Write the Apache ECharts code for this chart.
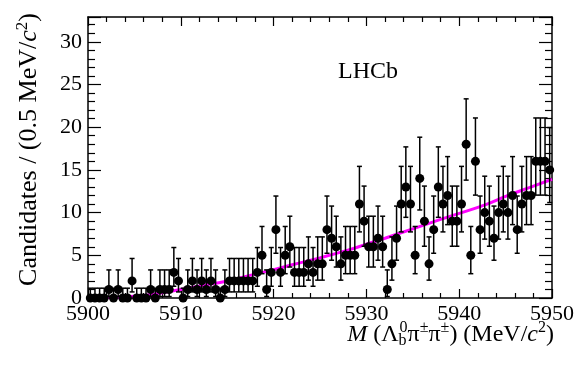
<!DOCTYPE html>
<html>
<head>
<meta charset="utf-8">
<script src="https://cdn.jsdelivr.net/npm/echarts@6/dist/echarts.min.js"></script>
<style>
html, body { margin: 0; padding: 0; background: #fff; }
#chart { width: 584px; height: 365px; }
</style>
</head>
<body>
<div id="chart"></div>
<script>
// mass window and binning (MeV/c2)
const massMin = 5900
const massMax = 5950
const massStep = 10
const binWidth = 0.5

// candidates per 0.5 MeV/c2 bin, from 5900 upwards
const counts = [
   0, 0, 0, 0, 1, 0, 1, 0, 0, 2,
   0, 0, 0, 1, 0, 1, 1, 1, 3, 2,
   0, 1, 2, 1, 2, 1, 2, 1, 0, 1,
   2, 2, 2, 2, 2, 2, 3, 5, 1, 3,
   8, 3, 5, 6, 3, 3, 3, 4, 3, 4,
   4, 8, 7, 6, 4, 5, 5, 5, 11, 9,
   6, 6, 7, 6, 1, 4, 7, 11, 13, 11,
   5, 14, 9, 4, 8, 13, 11, 12, 9, 9,
   11, 18, 5, 16, 8, 10, 9, 7, 10, 11,
   10, 12, 8, 11, 12, 12, 16, 16, 16, 15
]

// background fit (magenta)
const fitMass = [5900, 5903, 5905, 5907, 5910, 5912, 5915, 5918, 5920, 5922, 5925, 5928, 5930, 5932, 5935, 5938, 5940, 5943, 5945, 5948, 5950]
const fitValue = [0.02, 0.08, 0.2, 0.45, 1.0, 1.4, 2.0, 2.8, 3.3, 3.9, 4.7, 5.6, 6.3, 7.0, 8.1, 9.2, 9.9, 11.0, 11.9, 13.1, 13.9]

// y axis
const yMin = 0
const yMax = 32.9
const yStep = 5

// poisson interval (0 entries: RooFit style)
function poissonBand(n) {
   if (n === 0) return [0, 1.148]
   let lo = n * Math.pow(1 - 1 / (9 * n) - 1 / (3 * Math.sqrt(n)), 3)
   let m = n + 1
   let hi = m * Math.pow(1 - 1 / (9 * m) + 1 / (3 * Math.sqrt(m)), 3)
   return [lo, hi]
}

let points = []
let bars = []
counts.forEach((n, i) => {
   let x = massMin + (i + 0.5) * binWidth
   let band = poissonBand(n)
   points.push([x, n])
   bars.push([x, band[0], band[1]])
})

let fitLine = fitMass.map((m, i) => [m, fitValue[i]])

const serif = 'Liberation Serif'

let mChart = echarts.init(document.getElementById('chart'))

let frameX = {
   type: 'value',
   min: massMin,
   max: massMax,
   interval: massStep,
   axisLine: { show: true, onZero: false, lineStyle: { color: '#000', width: 1.5 } },
   axisTick: { show: true, inside: true, length: 9, lineStyle: { color: '#000', width: 1.2 } },
   minorTick: { show: true, splitNumber: 5, length: 5, lineStyle: { color: '#000', width: 1.2 } },
   splitLine: { show: false },
   minorSplitLine: { show: false }
}

let frameY = {
   type: 'value',
   min: yMin,
   max: yMax,
   interval: yStep,
   axisLine: { show: true, onZero: false, lineStyle: { color: '#000', width: 1.5 } },
   axisTick: { show: true, inside: true, length: 13, lineStyle: { color: '#000', width: 1.2 } },
   minorTick: { show: true, splitNumber: 5, length: 7, lineStyle: { color: '#000', width: 1.2 } },
   splitLine: { show: false },
   minorSplitLine: { show: false }
}

let option = {
   animation: false,
   backgroundColor: '#fff',
   grid: {
      left: 88,
      right: 32,
      top: 17,
      bottom: 67
   },
   xAxis: [
      Object.assign({}, frameX, {
         position: 'bottom',
         axisLabel: {
            fontFamily: serif, fontSize: 22, color: '#000', margin: 5,
            formatter: v => String(v)
         }
      }),
      Object.assign({}, frameX, {
         position: 'top',
         axisLabel: { show: false }
      })
   ],
   yAxis: [
      Object.assign({}, frameY, {
         position: 'left',
         axisLabel: { fontFamily: serif, fontSize: 22, color: '#000', margin: 6, showMaxLabel: false },
         name: 'Candidates / (0.5 MeV/{i|c}{sup|2})',
         nameLocation: 'middle',
         nameGap: 43,
         nameRotate: 90,
         nameTextStyle: {
            fontFamily: serif,
            fontSize: 26,
            color: '#000',
            padding: [0, 0, 0, 16],
            rich: {
               i: { fontFamily: serif, fontSize: 26, fontStyle: 'italic', color: '#000' },
               sup: { fontFamily: serif, fontSize: 17, color: '#000', padding: [0, 0, 14, 0] }
            }
         }
      }),
      Object.assign({}, frameY, {
         position: 'right',
         axisLabel: { show: false }
      })
   ],
   graphic: [
      {
         type: 'text',
         left: 338,
         top: 60,
         style: { text: 'LHCb', fontFamily: serif, fontSize: 24, fill: '#000' }
      },
      {
         type: 'text',
         right: 30,
         top: 320,
         style: {
            text: '{i|M} (Λ{sub|b}{sup|0}π{sup|±}π{sup|±}) (MeV/{i|c}{sup|2})',
            fontFamily: serif,
            fontSize: 24,
            fill: '#000',
            rich: {
               i: { fontFamily: serif, fontSize: 24, fontStyle: 'italic', fill: '#000' },
               sup: { fontFamily: serif, fontSize: 16, fill: '#000', padding: [0, 0, 14, 0] },
               sub: { fontFamily: serif, fontSize: 16, fill: '#000', padding: [12, 0, 0, 0], width: 1, align: 'left' }
            }
         }
      }
   ],
   series: [
      {
         name: 'fit',
         type: 'line',
         data: fitLine,
         smooth: true,
         showSymbol: false,
         lineStyle: { color: '#ff00ff', width: 3 },
         z: 3
      },
      {
         name: 'errors',
         type: 'custom',
         data: bars,
         renderItem: function (params, api) {
            let x = api.value(0)
            let pLo = api.coord([x, api.value(1)])
            let pHi = api.coord([x, api.value(2)])
            let cap = 2.5
            let st = { stroke: '#000', lineWidth: 1.5 }
            return {
               type: 'group',
               children: [
                  { type: 'line', shape: { x1: pLo[0], y1: pLo[1], x2: pHi[0], y2: pHi[1] }, style: st },
                  { type: 'line', shape: { x1: pHi[0] - cap, y1: pHi[1], x2: pHi[0] + cap, y2: pHi[1] }, style: st },
                  { type: 'line', shape: { x1: pLo[0] - cap, y1: pLo[1], x2: pLo[0] + cap, y2: pLo[1] }, style: st }
               ]
            }
         },
         z: 4
      },
      {
         name: 'data',
         type: 'scatter',
         data: points,
         symbol: 'circle',
         symbolSize: 9,
         itemStyle: { color: '#000', opacity: 1 },
         z: 5
      }
   ]
}

mChart.setOption(option)
</script>
</body>
</html>
